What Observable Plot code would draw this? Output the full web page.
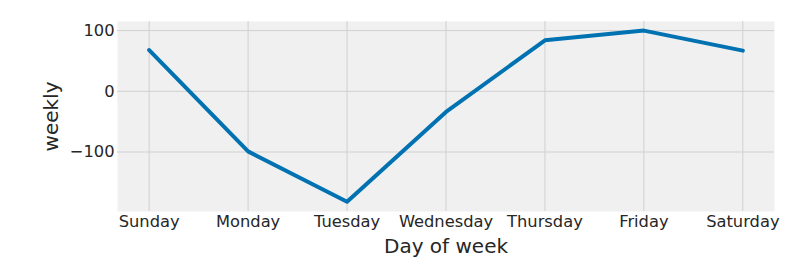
<!DOCTYPE html>
<html>
<head>
<meta charset="utf-8">
<script src="https://cdn.jsdelivr.net/npm/d3@7"></script>
<script src="https://cdn.jsdelivr.net/npm/@observablehq/plot@0.6"></script>
<style>
  html, body { margin: 0; padding: 0; background: #fff; }
  #chart svg { display: block; }
</style>
</head>
<body>
<div id="chart"></div>
<script>
const days = ["Sunday", "Monday", "Tuesday", "Wednesday", "Thursday", "Friday", "Saturday"];
const weekly = [68, -99, -182, -34, 84, 100, 67];
const yTicks = [-100, 0, 100];

const data = days.map((d, i) => ({day: d, value: weekly[i]}));

const chart = Plot.plot({
  width: 790,
  height: 278,
  marginLeft: 117,
  marginRight: 16,
  marginTop: 21,
  marginBottom: 67,
  style: {fontFamily: "DejaVu Sans", color: "#262626", background: "#fff"},
  x: {type: "point", domain: days, padding: 0.32, round: false},
  y: {domain: [-198, 115]},
  marks: [
    Plot.frame({fill: "#f0f0f0", stroke: "none"}),
    Plot.gridX({stroke: "#d0d0d0", strokeOpacity: 1, strokeWidth: 1}),
    Plot.gridY(yTicks, {stroke: "#d0d0d0", strokeOpacity: 1, strokeWidth: 1}),
    Plot.axisX({tickSize: 0, tickPadding: 4, fontSize: 16.3, label: "Day of week", labelAnchor: "center", labelArrow: "none", labelOffset: 41}),
    Plot.axisY(yTicks, {tickSize: 0, tickPadding: 3, fontSize: 16.3, label: "weekly", labelAnchor: "center", labelArrow: "none", labelOffset: 74}),
    Plot.line(data, {x: "day", y: "value", stroke: "#0072B2", strokeWidth: 4})
  ]
});
chart.querySelectorAll('g[aria-label="x-axis label"] text, g[aria-label="y-axis label"] text').forEach(t => t.setAttribute("font-size", 20));
document.getElementById("chart").appendChild(chart);
</script>
</body>
</html>
